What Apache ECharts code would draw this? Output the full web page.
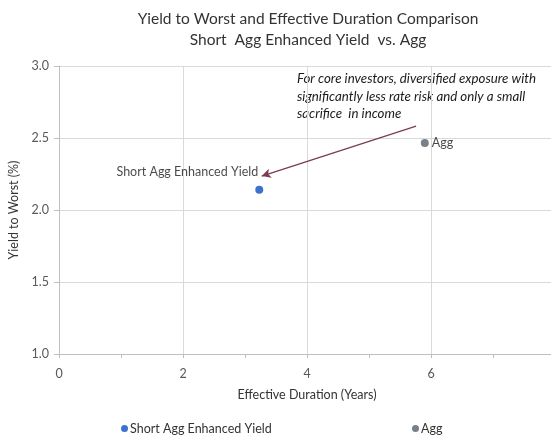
<!DOCTYPE html>
<html><head><meta charset="utf-8">
<script src="https://cdn.jsdelivr.net/npm/echarts@6/dist/echarts.min.js"></script>
<style>html,body{margin:0;padding:0;background:#fff}#c{width:551px;height:437px}</style>
</head><body><div id="c"></div>
<script>
const seriesNames = ['Short Agg Enhanced Yield', 'Agg'];
const durations = [3.23, 5.90];
const yields = [2.14, 2.465];
const colors = ['#0b4ec2', '#56606b'];
const arrowFrom = [5.76, 2.583];
const arrowTo = [3.27, 2.236];
const annotation = 'For core investors, diversified exposure with\nsignificantly less rate risk and only a small\nsacrifice  in income';
const titleText = 'Yield to Worst and Effective Duration Comparison\nShort  Agg Enhanced Yield  vs. Agg';

const FONT = 'Lato';
const chart = echarts.init(document.getElementById('c'));
const series = seriesNames.map((n, i) => ({
  name: n,
  type: 'scatter',
  symbolSize: 8,
  itemStyle: { color: colors[i] },
  data: [[durations[i], yields[i]]],
  label: i === 0
    ? { show: true, position: 'left', distance: 5, offset: [8, -18], formatter: n, color: '#1a1a1a', fontFamily: FONT, fontSize: 12.5 }
    : { show: true, position: 'right', distance: 3, formatter: n, color: '#1a1a1a', fontFamily: FONT, fontSize: 12.5 },
  markLine: i === 0 ? {
    silent: true, symbol: ['none', 'arrow'], symbolSize: [7, 9],
    lineStyle: { color: '#7d3a55', width: 1.3, type: 'solid' },
    label: { show: false },
    data: [[{ coord: arrowFrom }, { coord: arrowTo }]]
  } : undefined
}));

chart.setOption({
  animation: false,
  textStyle: { fontFamily: FONT },
  title: {
    text: titleText, left: 303, top: 3, textAlign: 'center',
    textStyle: { fontFamily: FONT, fontSize: 15.5, fontWeight: 'normal', color: '#333', lineHeight: 21 }
  },
  grid: { left: 59, right: -4, top: 66, bottom: 83, outerBoundsMode: 'none', containLabel: false },
  xAxis: {
    type: 'value', min: 0, max: 8, interval: 2,
    name: 'Effective Duration (Years)', nameLocation: 'middle', nameGap: 34,
    nameTextStyle: { fontFamily: FONT, fontSize: 12.5, color: '#333' },
    axisLine: { show: true, lineStyle: { color: '#bfbfbf' } },
    axisTick: { show: true, length: 4, lineStyle: { color: '#bfbfbf' } },
    minorTick: { show: true, splitNumber: 2, length: 4, lineStyle: { color: '#bfbfbf' } },
    axisLabel: { fontFamily: FONT, fontSize: 12.5, color: '#595959', margin: 13, showMaxLabel: false },
    splitLine: { show: true, lineStyle: { color: '#d9d9d9' } }
  },
  yAxis: {
    type: 'value', min: 1, max: 3, interval: 0.5,
    name: 'Yield to Worst (%)', nameLocation: 'middle', nameGap: 33,
    nameTextStyle: { fontFamily: FONT, fontSize: 12.5, color: '#333' },
    axisLine: { show: true, lineStyle: { color: '#bfbfbf' } },
    axisTick: { show: true, length: 5, lineStyle: { color: '#bfbfbf' } },
    axisLabel: { fontFamily: FONT, fontSize: 12.5, color: '#595959', margin: 10, formatter: v => v.toFixed(1) },
    splitLine: { show: true, lineStyle: { color: '#d9d9d9' } }
  },
  legend: [
    { data: [seriesNames[0]], left: 116, top: 417, icon: 'circle', itemWidth: 7, itemHeight: 7, itemGap: 4,
      textStyle: { fontFamily: FONT, fontSize: 12.5, color: '#333', padding: [0, 0, 0, -3] } },
    { data: [seriesNames[1]], left: 407, top: 417, icon: 'circle', itemWidth: 7, itemHeight: 7,
      textStyle: { fontFamily: FONT, fontSize: 12.5, color: '#333', padding: [0, 0, 0, -3] } }
  ],
  graphic: [{
    type: 'text', left: 297, top: 70,
    style: { text: annotation, fontFamily: FONT, fontStyle: 'italic', fontSize: 13.3, lineHeight: 17.5, fill: '#1a1a1a' }
  }],
  series: series
});
</script></body></html>
